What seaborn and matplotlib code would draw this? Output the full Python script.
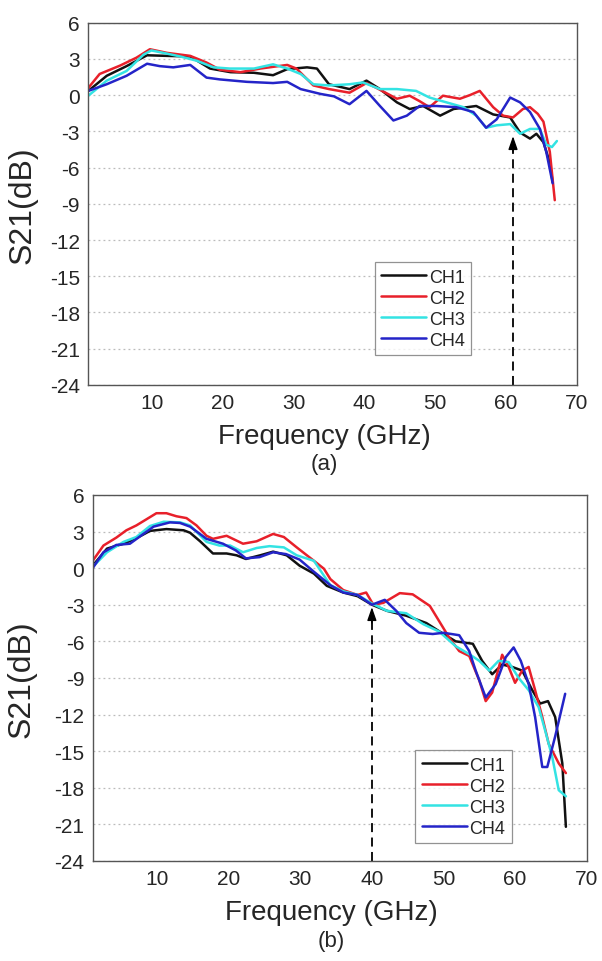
import pandas as pd
import matplotlib
matplotlib.use("Agg")
import matplotlib.pyplot as plt
import seaborn as sns

channels = ["CH1", "CH2", "CH3", "CH4"]
colors = {"CH1": "#111111", "CH2": "#e8202a", "CH3": "#33e3e3", "CH4": "#2424c8"}

# ---- panel (a) ----
a_ch1_f = [1, 3.6, 6.4, 9.3, 12.1, 15.4, 18.2, 21.1, 24.4, 27.1, 29.1, 31.9, 33.3, 35, 37.9, 40.3, 42.2,
           44.6, 46.4, 48.3, 50.7, 52.6, 55.8, 58.2, 60.6, 62, 63.4, 64.3, 65.3, 66.2, 66.6]
a_ch1_s = [0.35, 1.6, 2.4, 3.3, 3.25, 3.2, 2.2, 1.9, 1.85, 1.65, 2.15, 2.3, 2.2, 0.9, 0.5, 1.2, 0.5,
           -0.6, -1.15, -0.9, -1.7, -1.15, -0.9, -1.6, -1.85, -3.1, -3.6, -3.2, -3.9, -5.6, -7.2]
a_ch2_f = [1, 2.6, 5.5, 7.8, 9.7, 12.1, 15.4, 17.7, 19.6, 22.5, 25.3, 29.1, 30.4, 32.8, 35, 37.9, 40.3,
           41.7, 44.6, 46.4, 47.8, 49.2, 51.1, 53.5, 54.9, 56.3, 58.2, 59.6, 61, 62.4, 63.4, 64.5, 65.3,
           66.2, 66.9]
a_ch2_s = [0.6, 1.75, 2.45, 3.1, 3.8, 3.5, 3.25, 2.7, 2.1, 1.9, 2.2, 2.5, 2.2, 0.8, 0.5, 0.2, 1.0,
           0.6, -0.3, -0.05, -0.5, -1.0, -0.05, -0.3, 0.0, 0.35, -1.0, -1.7, -1.85, -1.15, -1.0, -1.55, -2.2,
           -4.7, -8.7]
a_ch3_f = [1, 3.6, 6.4, 8.8, 9.9, 11.6, 14, 16.3, 18.7, 21, 24.4, 27.1, 29.1, 31, 32.8, 35, 37.9, 39.8,
           42.2, 44.6, 47.3, 49.2, 51.6, 54, 55.8, 57.2, 58.7, 60.6, 62, 63.4, 64.8, 65.7, 66.5, 67.2]
a_ch3_s = [-0.05, 1.2, 2.0, 3.35, 3.7, 3.5, 3.2, 2.85, 2.3, 2.2, 2.2, 2.55, 2.2, 1.75, 0.9, 0.8, 0.9, 1.05,
           0.5, 0.5, 0.35, -0.2, -0.6, -1.0, -1.7, -2.7, -2.5, -2.4, -3.2, -2.8, -2.8, -4.1, -4.3, -3.8]
a_ch4_f = [1, 3.6, 6.4, 9.3, 11.1, 13, 15.4, 17.7, 19.6, 23.4, 27.1, 29.1, 31, 33.8, 35.7, 37.9, 40.3,
           42.2, 44.1, 46, 47.8, 50.2, 53, 55.4, 57.2, 58.7, 60.6, 62, 63.4, 64.8, 65.7, 66.6]
a_ch4_s = [0.35, 0.9, 1.6, 2.6, 2.4, 2.3, 2.5, 1.45, 1.3, 1.1, 1.0, 1.1, 0.5, 0.1, -0.1, -0.75, 0.35,
           -0.9, -2.1, -1.7, -0.9, -0.9, -1.0, -1.4, -2.7, -2.0, -0.2, -0.6, -1.4, -2.8, -4.7, -7.3]

# ---- panel (b) ----
b_ch1_f = [1, 3, 5.3, 7.1, 9, 11.3, 13.7, 14.6, 16, 17.8, 19.7, 21.1, 22.4, 24.4, 26.2, 28.1, 29.9, 31.9,
           33.7, 36, 38, 40, 42.1, 44.8, 47.6, 50, 51.7, 54.1, 55.4, 56.8, 58.2, 59.6, 61, 62.4, 63.5,
           64.6, 65.6, 66.6, 67.1]
b_ch1_s = [0.2, 1.6, 2.0, 2.45, 3.05, 3.2, 3.1, 2.9, 2.2, 1.2, 1.2, 1.05, 0.75, 1.05, 1.35, 1.05, 0.2, -0.45,
           -1.45, -2.0, -2.3, -3.0, -3.5, -3.9, -4.5, -5.4, -6.0, -6.2, -7.6, -8.7, -7.9, -8.1, -8.4, -10.0, -11.1,
           -10.9, -12.2, -16.0, -21.2]
b_ch2_f = [1, 2.5, 4.3, 5.7, 7.1, 8.5, 9.9, 11.3, 12.7, 14.1, 15.5, 16.9, 17.8, 19.7, 22, 23.9, 26.2, 27.7,
           29.5, 31.9, 33.3, 34.2, 36, 38, 39.2, 40.2, 41.6, 43.9, 45.7, 48.1, 49.4, 50.8, 52.2, 53.6, 55,
           55.9, 56.8, 58.2, 59.1, 60, 61, 61.9, 62.8, 63.8, 64.7, 66.1, 67.1]
b_ch2_s = [0.6, 1.85, 2.5, 3.1, 3.5, 4.0, 4.5, 4.5, 4.25, 4.1, 3.5, 2.65, 2.4, 2.65, 2.0, 2.2, 2.8, 2.55,
           1.7, 0.6, -0.05, -0.9, -1.8, -2.2, -2.0, -3.0, -2.85, -2.05, -2.15, -3.1, -4.35, -5.7, -6.8, -7.2, -9.2,
           -10.9, -10.2, -7.1, -8.1, -9.4, -8.4, -8.1, -10.0, -12.2, -14.4, -16.0, -16.8]
b_ch3_f = [1, 3, 5.3, 7.1, 9, 10.9, 13.2, 14.6, 16.9, 18.7, 20.2, 22, 23.9, 25.7, 27.7, 29.5, 31.9, 34.2,
           36, 38, 40, 42.1, 44.8, 47.2, 49.4, 51.7, 53.6, 55, 56.4, 57.7, 59.1, 60.5, 61.9, 63.3, 64.2,
           65.2, 66.1, 67.1]
b_ch3_s = [0.1, 1.3, 2.15, 2.55, 3.45, 3.8, 3.75, 3.5, 2.15, 1.85, 1.85, 1.3, 1.65, 1.8, 1.7, 1.05, 0.6, -1.4,
           -1.9, -2.2, -2.9, -3.5, -3.7, -4.6, -5.2, -6.4, -7.05, -7.6, -8.4, -7.6, -7.7, -9.0, -10.0, -11.4, -13.3,
           -15.5, -18.2, -18.7]
b_ch4_f = [1, 2.5, 4.3, 6.2, 7.6, 9.5, 11.8, 13.2, 14.6, 16.9, 19.2, 21, 22.4, 24.3, 26.2, 28, 29.9, 31.9,
           34.2, 36, 38, 40, 41.8, 43.4, 44.8, 46.6, 48.5, 50, 52.2, 53.6, 54.5, 55.9, 57.3, 58.7, 59.8,
           60.8, 61.9, 62.8, 63.8, 64.5, 65.6, 67]
b_ch4_s = [0.0, 1.3, 1.9, 2.0, 2.6, 3.4, 3.75, 3.7, 3.4, 2.4, 2.0, 1.45, 0.8, 0.9, 1.3, 1.15, 0.7, -0.3,
           -1.4, -2.0, -2.2, -3.0, -2.6, -3.5, -4.5, -5.3, -5.4, -5.3, -5.5, -6.8, -8.4, -10.6, -9.5, -7.3, -6.5,
           -7.6, -9.5, -12.2, -16.3, -16.3, -13.8, -10.3]

arrow_x = [61, 40]
arrow_tip = [-3.4, -3.2]
panel_tags = ["(a)", "(b)"]
yticks = list(range(-24, 7, 3))
xticks = [10, 20, 30, 40, 50, 60, 70]
xminor = [5, 15, 25, 35, 45, 55, 65]


def long_frame(freqs, vals):
    parts = []
    for ch, f, s in zip(channels, freqs, vals):
        parts.append(pd.DataFrame({"freq": f, "s21": s, "channel": ch}))
    return pd.concat(parts, ignore_index=True)


df_a = long_frame([a_ch1_f, a_ch2_f, a_ch3_f, a_ch4_f], [a_ch1_s, a_ch2_s, a_ch3_s, a_ch4_s])
df_b = long_frame([b_ch1_f, b_ch2_f, b_ch3_f, b_ch4_f], [b_ch1_s, b_ch2_s, b_ch3_s, b_ch4_s])

sns.set_style("white")
plt.rcParams["font.family"] = ["Liberation Sans", "DejaVu Sans"]
plt.rcParams["axes.unicode_minus"] = False

fig = plt.figure(figsize=(6.02, 9.62), dpi=100)
ax_a = fig.add_axes([0.1467, 0.5988, 0.8113, 0.3766])
ax_b = fig.add_axes([0.154, 0.104, 0.8205, 0.3805])

legend_pos = [(0.587, 0.083), (0.653, 0.049)]
ylabel_x = [-0.103, -0.113]

for ax, df, ax_x, tip, tag, lpos, ylx in zip([ax_a, ax_b], [df_a, df_b], arrow_x, arrow_tip,
                                              panel_tags, legend_pos, ylabel_x):
    sns.lineplot(data=df, x="freq", y="s21", hue="channel", palette=colors, sort=False,
                 estimator=None, lw=1.8, ax=ax)
    ax.set_xlim(1, 70)
    ax.set_ylim(-24, 6)
    ax.set_xticks(xticks)
    ax.set_xticks(xminor, minor=True)
    ax.set_yticks(yticks)
    ax.tick_params(axis="both", which="major", direction="in", length=5, width=1,
                   labelsize=15, pad=6, color="#444444")
    ax.tick_params(axis="x", which="minor", direction="in", length=3, width=1, color="#444444")
    ax.yaxis.grid(True, linestyle=(0, (1.5, 2.5)), color="#bbbbbb", lw=0.9)
    ax.xaxis.grid(False)
    for sp in ax.spines.values():
        sp.set_color("#555555")
        sp.set_linewidth(1.0)
    ax.set_xlabel("Frequency (GHz)", fontsize=20)
    ax.xaxis.set_label_coords(0.483, -0.105)
    ax.set_ylabel("S21(dB)", fontsize=23)
    ax.yaxis.set_label_coords(ylx, 0.5)
    ax.text(0.483, -0.218, tag, transform=ax.transAxes, ha="center", va="center", fontsize=16)

    # dashed marker arrow
    ax.plot([ax_x, ax_x], [-24, tip - 0.6], ls=(0, (5, 3)), color="black", lw=1.3)
    ax.annotate("", xy=(ax_x, tip), xytext=(ax_x, tip - 1.3),
                arrowprops=dict(arrowstyle="-|>,head_length=0.8,head_width=0.28",
                                color="black", lw=1.0, shrinkA=0, shrinkB=0))

    leg = ax.legend(loc="lower left", bbox_to_anchor=lpos, fontsize=13, frameon=True,
                    fancybox=False, edgecolor="#777777", handlelength=2.5,
                    handletextpad=0.15, borderpad=0.35, labelspacing=0.22, borderaxespad=0)
    leg.get_frame().set_linewidth(0.9)
    leg.set_title(None)

fig.savefig("out.png", dpi=100)
